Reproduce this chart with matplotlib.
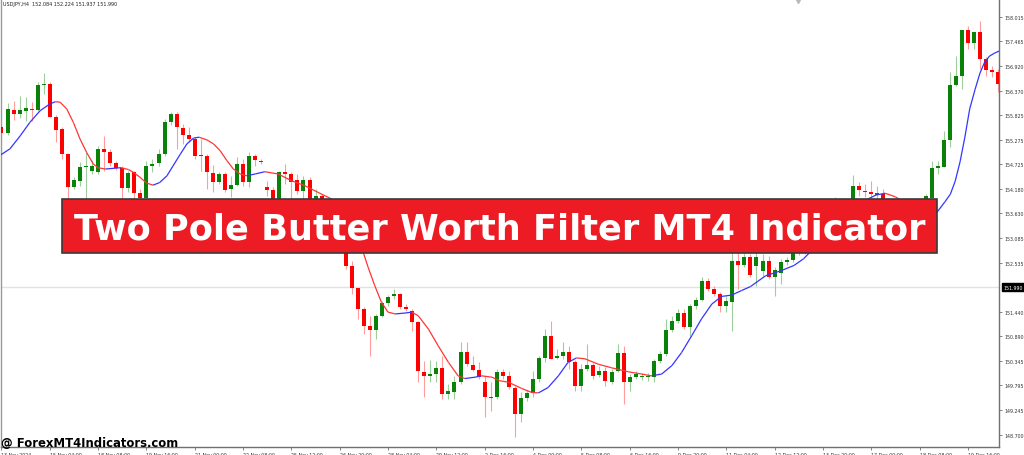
import numpy as np
import matplotlib
matplotlib.use("Agg")
import matplotlib.pyplot as plt
from matplotlib.collections import LineCollection
from matplotlib.patches import Rectangle
from matplotlib.transforms import blended_transform_factory

# USDJPY H4 candles, bar 0 = first bar on screen (13 Nov 2024)
opens = [
    155.56, 155.42, 155.94, 155.85, 155.91, 155.96, 155.94, 156.49, 156.52, 155.78,
    155.51, 154.95, 154.22, 154.35, 154.66, 154.58, 154.55, 155.07, 155.00, 154.75,
    154.64, 154.20, 154.55, 154.09, 153.97, 154.69, 154.75, 154.95, 155.67, 155.85,
    155.53, 155.38, 155.29, 154.93, 154.91, 154.53, 154.33, 154.51, 154.17, 154.26,
    154.73, 154.33, 154.91, 154.80, 154.22, 154.15, 153.84, 154.55, 154.51, 154.38,
    154.13, 154.38, 153.84, 154.02, 153.62, 153.33, 153.46, 153.06, 152.46, 151.97,
    151.50, 151.12, 151.03, 151.34, 151.63, 151.79, 151.83, 151.54, 151.46, 151.21,
    150.10, 150.01, 150.05, 150.19, 149.61, 149.65, 149.87, 150.54, 150.25, 150.14,
    149.87, 149.54, 149.54, 150.10, 150.01, 149.74, 149.16, 149.52, 149.63, 149.94,
    150.41, 150.90, 150.41, 150.45, 150.54, 150.32, 149.78, 150.16, 150.25, 150.03,
    150.12, 149.87, 150.12, 150.52, 149.87, 149.98, 149.98, 149.98, 149.98, 150.34,
    150.50, 151.03, 151.23, 151.41, 151.10, 151.57, 151.70, 152.12, 151.95, 151.83,
    151.57, 151.66, 152.57, 152.48, 152.66, 152.46, 152.35, 152.57, 152.21, 152.30,
    152.55, 152.59, 152.75, 152.88, 152.79, 153.11, 153.28, 153.15, 153.51, 153.84,
    153.68, 153.91, 154.24, 154.13, 154.11, 154.04, 154.06, 153.84, 153.62, 153.77,
    153.46, 153.33, 153.55, 153.73, 153.97, 154.64, 154.66, 155.27, 156.49, 156.69,
    157.72, 157.43, 157.67, 157.07, 156.83, 156.78,
]
highs = [
    155.62, 156.09, 156.14, 156.25, 156.23, 156.11, 156.56, 156.76, 156.56, 155.82,
    155.56, 154.98, 154.44, 154.78, 155.00, 154.82, 155.13, 155.36, 155.07, 154.80,
    154.69, 154.58, 154.58, 154.17, 154.80, 154.84, 155.07, 155.74, 155.89, 155.89,
    155.62, 155.56, 155.33, 155.29, 154.95, 154.71, 154.55, 154.55, 154.46, 154.89,
    154.84, 155.00, 154.95, 154.84, 154.35, 154.22, 154.58, 154.73, 154.55, 154.51,
    154.46, 154.44, 154.17, 154.06, 153.68, 153.55, 153.51, 153.11, 152.57, 151.97,
    151.54, 151.34, 151.39, 151.68, 151.81, 151.95, 151.86, 151.61, 151.50, 151.23,
    150.34, 150.36, 150.34, 150.45, 149.83, 150.01, 150.77, 150.77, 150.45, 150.32,
    150.01, 149.87, 150.16, 150.16, 150.12, 149.78, 149.65, 149.69, 150.12, 150.45,
    151.05, 151.23, 150.61, 150.77, 150.68, 150.36, 150.27, 150.72, 150.30, 150.23,
    150.21, 150.16, 150.72, 150.68, 150.05, 150.12, 150.07, 150.07, 150.39, 150.56,
    151.28, 151.34, 151.50, 151.50, 151.61, 151.77, 152.21, 152.19, 152.01, 151.88,
    151.79, 152.77, 152.77, 152.75, 152.73, 152.77, 152.73, 152.68, 152.44, 152.61,
    152.66, 152.84, 152.95, 152.97, 153.15, 153.37, 153.33, 153.55, 154.00, 153.89,
    153.95, 154.49, 154.33, 154.29, 154.35, 154.24, 154.17, 153.89, 153.84, 153.82,
    153.55, 153.62, 153.82, 154.06, 154.80, 154.80, 155.47, 156.78, 157.14, 157.72,
    157.81, 157.67, 157.92, 157.12, 156.92, 156.85,
]
lows = [
    155.29, 155.38, 155.71, 155.76, 155.69, 155.69, 155.91, 156.29, 155.78, 155.22,
    154.84, 153.95, 154.17, 154.24, 153.95, 154.51, 154.51, 154.58, 154.69, 154.60,
    153.95, 154.11, 153.95, 153.93, 153.95, 154.55, 154.69, 154.91, 155.60, 155.07,
    155.18, 155.22, 154.84, 154.58, 154.17, 154.11, 154.29, 154.11, 154.00, 154.24,
    154.24, 154.22, 154.69, 154.73, 154.02, 153.77, 153.77, 154.29, 153.95, 154.06,
    153.95, 153.77, 153.73, 153.55, 153.24, 153.24, 152.97, 152.39, 151.83, 151.28,
    150.94, 150.45, 150.83, 151.32, 151.57, 151.72, 151.50, 151.46, 151.01, 149.87,
    149.54, 149.87, 149.87, 149.49, 149.49, 149.49, 149.83, 150.23, 150.12, 149.94,
    149.09, 149.23, 149.49, 149.94, 149.72, 148.65, 148.98, 149.45, 149.54, 149.87,
    150.32, 150.39, 150.39, 150.39, 150.16, 149.67, 149.67, 150.12, 149.94, 149.98,
    149.78, 149.83, 150.10, 149.38, 149.67, 149.94, 149.92, 149.89, 149.87, 150.30,
    150.45, 150.99, 151.19, 151.05, 150.90, 151.50, 151.68, 151.90, 151.79, 151.43,
    151.43, 151.01, 151.95, 152.44, 152.21, 152.01, 152.24, 152.17, 151.79, 152.06,
    152.48, 152.55, 152.70, 152.73, 152.75, 153.06, 153.06, 153.11, 153.46, 153.62,
    153.66, 153.84, 154.02, 154.00, 153.95, 153.95, 153.77, 153.55, 153.51, 153.39,
    153.24, 153.28, 153.51, 153.68, 153.89, 154.51, 154.66, 155.11, 156.47, 156.40,
    157.30, 157.30, 156.85, 156.69, 156.67, 156.34,
]
closes = [
    155.42, 155.96, 155.85, 155.94, 155.98, 155.94, 156.49, 156.52, 155.78, 155.49,
    154.95, 154.22, 154.38, 154.66, 154.69, 154.69, 155.07, 155.00, 154.75, 154.64,
    154.20, 154.53, 154.09, 153.97, 154.69, 154.73, 154.95, 155.67, 155.85, 155.56,
    155.38, 155.29, 154.91, 154.91, 154.55, 154.33, 154.51, 154.15, 154.26, 154.73,
    154.33, 154.91, 154.82, 154.78, 154.15, 153.84, 154.55, 154.51, 154.33, 154.13,
    154.38, 153.84, 154.02, 153.62, 153.33, 153.46, 153.06, 152.46, 151.97, 151.50,
    151.12, 151.03, 151.34, 151.63, 151.77, 151.83, 151.54, 151.50, 151.21, 150.12,
    150.01, 150.05, 150.19, 149.61, 149.67, 149.87, 150.54, 150.27, 150.14, 149.98,
    149.54, 149.52, 150.10, 150.01, 149.76, 149.16, 149.52, 149.63, 149.94, 150.41,
    150.90, 150.39, 150.45, 150.54, 150.32, 149.78, 150.16, 150.25, 150.01, 150.12,
    149.89, 150.10, 150.52, 149.87, 149.98, 150.05, 150.01, 150.01, 150.34, 150.50,
    151.03, 151.23, 151.41, 151.10, 151.57, 151.70, 152.12, 151.95, 151.83, 151.57,
    151.68, 152.57, 152.48, 152.66, 152.26, 152.66, 152.57, 152.21, 152.37, 152.55,
    152.59, 152.75, 152.88, 152.79, 153.11, 153.28, 153.15, 153.51, 153.84, 153.68,
    153.91, 154.24, 154.15, 154.11, 154.06, 154.09, 153.84, 153.62, 153.77, 153.46,
    153.33, 153.55, 153.73, 154.02, 154.64, 154.69, 155.27, 156.49, 156.69, 157.72,
    157.43, 157.67, 157.07, 156.83, 156.78, 156.52,
]

# two pole butterworth filter line (bar position, price)
filt_bar = [
    -0.3, 1.4, 3.1, 4.7, 6.4, 8.0, 8.9, 9.7, 10.8, 11.9, 13.0, 14.1, 15.2, 16.0,
    17.2, 19.8, 21.0, 21.8, 22.9, 24.0, 25.1, 26.2, 27.4, 28.4, 29.6, 30.7, 31.8,
    32.7, 34.0, 35.1, 36.2, 37.3, 38.4, 39.5, 40.6, 42.0, 43.6, 45.8, 48.0, 50.2,
    52.4, 54.7, 57.2, 59.9, 60.7, 61.8, 62.9, 64.0, 65.2, 66.8, 67.9, 69.0, 70.7,
    72.3, 74.0, 75.6, 76.7, 78.4, 79.5, 81.2, 82.5, 83.9, 86.1, 87.8, 88.9, 90.5,
    92.2, 93.8, 95.2, 96.6, 98.8, 101.0, 103.8, 106.0, 107.6, 109.3, 111.0, 112.6,
    114.3, 115.9, 117.6, 119.2, 120.9, 122.5, 124.0, 126.5, 129.0, 131.2, 132.8,
    134.1, 137.0, 140.0, 143.4, 144.8, 146.3, 148.0, 149.1, 151.0, 153.0, 154.9,
    156.2, 157.1, 157.9, 158.7, 159.5, 160.3, 161.2, 162.0, 162.8, 163.6, 164.5,
    165.2,
]
filt_val = [
    154.92, 155.07, 155.36, 155.66, 155.92, 156.07, 156.12, 156.11, 155.96, 155.66,
    155.29, 154.99, 154.73, 154.65, 154.62, 154.65, 154.61, 154.55, 154.44, 154.31,
    154.26, 154.32, 154.47, 154.69, 154.95, 155.18, 155.31, 155.33, 155.27, 155.18,
    155.03, 154.81, 154.62, 154.51, 154.47, 154.51, 154.56, 154.51, 154.36, 154.25,
    154.10, 153.95, 153.39, 152.76, 152.43, 152.02, 151.65, 151.43, 151.39, 151.41,
    151.43, 151.35, 151.05, 150.68, 150.31, 150.01, 149.95, 149.98, 150.01, 149.98,
    149.90, 149.87, 149.73, 149.64, 149.63, 149.75, 150.01, 150.31, 150.41, 150.39,
    150.27, 150.19, 150.10, 150.05, 150.01, 150.05, 150.24, 150.53, 150.91, 151.28,
    151.61, 151.78, 151.81, 151.91, 152.00, 152.24, 152.35, 152.47, 152.62, 152.80,
    153.33, 153.73, 153.95, 154.04, 154.08, 154.00, 153.91, 153.75, 153.60, 153.66,
    153.89, 154.06, 154.35, 154.78, 155.33, 155.96, 156.40, 156.76, 157.01, 157.14,
    157.21, 157.25,
]

date_ticks = [0, 8, 16, 24, 32, 40, 48, 56, 64, 72, 80, 88, 96, 104, 112, 120,
              128, 136, 144, 152, 160]
date_labels = ["13 Nov 2024", "15 Nov 04:00", "18 Nov 08:00", "19 Nov 16:00",
               "21 Nov 00:00", "22 Nov 08:00", "25 Nov 12:00", "26 Nov 20:00",
               "28 Nov 04:00", "29 Nov 12:00", "2 Dec 16:00", "4 Dec 00:00",
               "5 Dec 08:00", "6 Dec 16:00", "9 Dec 20:00", "11 Dec 04:00",
               "12 Dec 12:00", "13 Dec 20:00", "17 Dec 00:00", "18 Dec 08:00",
               "19 Dec 16:00"]
price_ticks = [158.015, 157.465, 156.920, 156.370, 155.825, 155.275, 154.725,
               154.180, 153.630, 153.085, 152.535, 151.440, 150.890, 150.345,
               149.795, 149.245, 148.700]
bid = 151.990
header = "USDJPY,H4  152.084 152.224 151.937 151.990"
title = "Two Pole Butter Worth Filter MT4 Indicator"
watermark = "@ ForexMT4Indicators.com"

o = np.array(opens)
h = np.array(highs)
l = np.array(lows)
c = np.array(closes)
x = np.arange(len(o))
up = c >= o

fig = plt.figure(figsize=(10.24, 4.56), dpi=100)
ax = fig.add_axes([1 / 1024, 8 / 456, 998 / 1024, 448 / 456])

# bid line
ax.axhline(bid, color="#e2e2e2", lw=1.0, zorder=0)

# wicks then bodies
wick_col = np.where(up, "#9ccf9c", "#ff9c9c")
ax.vlines(x, l, h, colors=wick_col, lw=0.8, zorder=2)
body_col = np.where(up, "#0a820a", "#ff0000")
bottom = np.minimum(o, c)
height = np.maximum(np.abs(c - o), 0.022)
ax.bar(x, height, bottom=bottom, width=0.66, color=body_col, linewidth=0, zorder=3)

# filter line, red while falling and blue while rising
fb = np.array(filt_bar)
fv = np.array(filt_val)
assert len(fb) == len(fv)
pts = np.column_stack([fb, fv])
segs = np.stack([pts[:-1], pts[1:]], axis=1)
seg_col = np.where(np.diff(fv) >= 0, "#3535ff", "#ff3535")
ax.add_collection(LineCollection(segs, colors=seg_col, lw=0.9, zorder=4))

ax.set_xlim(-0.08, 165.15)
ax.set_ylim(148.424, 158.41)

for s in ["top"]:
    ax.spines[s].set_visible(False)
ax.spines["left"].set_color("#999999")
ax.spines["right"].set_color("#707070")
ax.spines["bottom"].set_color("#707070")
for s in ["left", "right", "bottom"]:
    ax.spines[s].set_linewidth(1.0)

ax.yaxis.tick_right()
ax.set_yticks(price_ticks, [f"{v:.3f}" for v in price_ticks])
ax.tick_params(axis="y", direction="out", length=2.5, width=0.6, pad=1.5,
               labelsize=3.4, colors="#707070", labelcolor="#333333")
ax.set_xticks(date_ticks, date_labels)
for t in ax.get_xticklabels():
    t.set_ha("left")
ax.tick_params(axis="x", direction="out", length=2.5, width=0.6, pad=1.0,
               labelsize=3.4, colors="#707070", labelcolor="#333333")

# bid price box on the price scale
tr = blended_transform_factory(ax.transAxes, ax.transData)
ax.text(1.004, bid, f"{bid:.3f}", transform=tr, ha="left", va="center",
        fontsize=3.4, color="white", clip_on=False,
        bbox=dict(boxstyle="square,pad=0.25", fc="black", ec="black"))

# chart shift marker
tr2 = blended_transform_factory(ax.transData, ax.transAxes)
ax.plot([131.9], [0.995], marker="v", ms=3, color="#b8b8b8", transform=tr2,
        clip_on=False, zorder=5)

fig.text(3 / 1024, 1 - 4.5 / 456, header, fontsize=3.5, color="#222222",
         ha="left", va="center")

# banner
fig.add_artist(Rectangle((62 / 1024, 1 - 254 / 456), 875 / 1024, 54 / 456,
                         transform=fig.transFigure, facecolor="#ed1c24",
                         edgecolor="#3a3a3a", lw=1.2, zorder=10))
fig.text(500 / 1024, 1 - 240 / 456, title, color="white", fontsize=25.3,
         fontweight="bold", family="DejaVu Sans", ha="center", va="baseline",
         zorder=11)

fig.text(1 / 1024, 1 - 446.7 / 456, watermark, fontsize=8.4, fontweight="bold",
         color="black", ha="left", va="baseline", zorder=11)

fig.savefig("out.png", dpi=100)
